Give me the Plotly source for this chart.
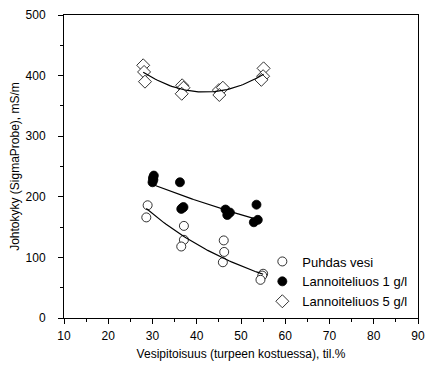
import numpy as np
import plotly.graph_objects as go

# Puhdas vesi (open circles)
x_puhdas = [28.9, 28.6, 37.1, 37.1, 36.5, 46.1, 46.2, 45.9, 55.0, 54.8, 54.4]
y_puhdas = [186, 166, 152, 129, 118, 128, 109, 92, 73, 70, 63]

# Lannoiteliuos 1 g/l (filled circles)
x_l1 = [30.3, 30.2, 30.0, 30.1, 36.2, 36.5, 36.8, 37.0, 46.5, 46.9, 47.5, 53.5, 52.9, 53.8]
y_l1 = [235, 228, 224, 231, 224, 180, 182, 183, 179, 170, 174, 187, 158, 162]

# Lannoiteliuos 5 g/l (open diamonds)
x_l5 = [27.9, 28.1, 28.3, 36.7, 37.0, 36.6, 45.0, 45.9, 45.1, 55.1, 55.0, 54.6]
y_l5 = [417, 406, 390, 384, 380, 370, 376, 380, 368, 412, 399, 393]

x_ticks = [10, 20, 30, 40, 50, 60, 70, 80, 90]
y_ticks = [0, 100, 200, 300, 400, 500]

FONT = "Liberation Sans, Arial, sans-serif"

fig = go.Figure()

def add_series(xs, ys, name, symbol, fill, size, fit):
    fig.add_trace(go.Scatter(
        x=xs, y=ys, mode="markers", name=name,
        marker=dict(symbol=symbol, size=size,
                    color=fill, line=dict(color="black", width=0.8)),
    ))
    xa, ya = np.array(xs, float), np.array(ys, float)
    xf = np.linspace(xa.min(), xa.max(), 60)
    if fit == "exp":
        b, a = np.polyfit(xa, np.log(ya), 1)
        yf = np.exp(a + b * xf)
    else:
        yf = np.polyval(np.polyfit(xa, ya, 2), xf)
    fig.add_trace(go.Scatter(
        x=xf, y=yf, mode="lines", showlegend=False,
        line=dict(color="black", width=1.2), hoverinfo="skip",
    ))

add_series(x_puhdas, y_puhdas, "Puhdas vesi", "circle", "white", 9, "exp")
add_series(x_l1, y_l1, "Lannoiteliuos 1 g/l", "circle", "black", 9, "exp")
add_series(x_l5, y_l5, "Lannoiteliuos 5 g/l", "diamond", "white", 10, "poly")

axis_common = dict(
    showline=True, linecolor="black", linewidth=1, mirror=True,
    ticks="outside", ticklen=5, tickcolor="black", showgrid=False,
    zeroline=False, automargin=False,
    tickfont=dict(family=FONT, size=12, color="black"),
)

fig.update_xaxes(
    range=[10, 90], tickvals=x_ticks, ticklabelstandoff=2,
    minor=dict(ticks="outside", ticklen=3, dtick=5, tickcolor="black"),
    title=dict(text="Vesipitoisuus (turpeen kostuessa), til.%",
               font=dict(family=FONT, size=12, color="black"), standoff=7),
    **axis_common,
)
fig.update_yaxes(
    range=[0, 500], tickvals=y_ticks, ticklabelstandoff=10,
    minor=dict(ticks="outside", ticklen=3, dtick=50, tickcolor="black"),
    title=dict(text="Johtokyky (SigmaProbe), mS/m",
               font=dict(family=FONT, size=12, color="black"), standoff=3),
    **axis_common,
)

fig.update_layout(
    width=427, height=365,
    margin=dict(l=64, r=9, t=15, b=47, autoexpand=False),
    plot_bgcolor="white", paper_bgcolor="white",
    font=dict(family=FONT, size=12, color="black"),
    legend=dict(x=0.984, y=0.236, xanchor="right", yanchor="top",
                bgcolor="rgba(0,0,0,0)", font=dict(size=13),
                itemwidth=30, tracegroupgap=0),
)

fig.write_html(
    "out.html",
    config={"displayModeBar": False},
    post_script="document.body.style.margin='0';document.body.style.overflow='hidden';",
)
